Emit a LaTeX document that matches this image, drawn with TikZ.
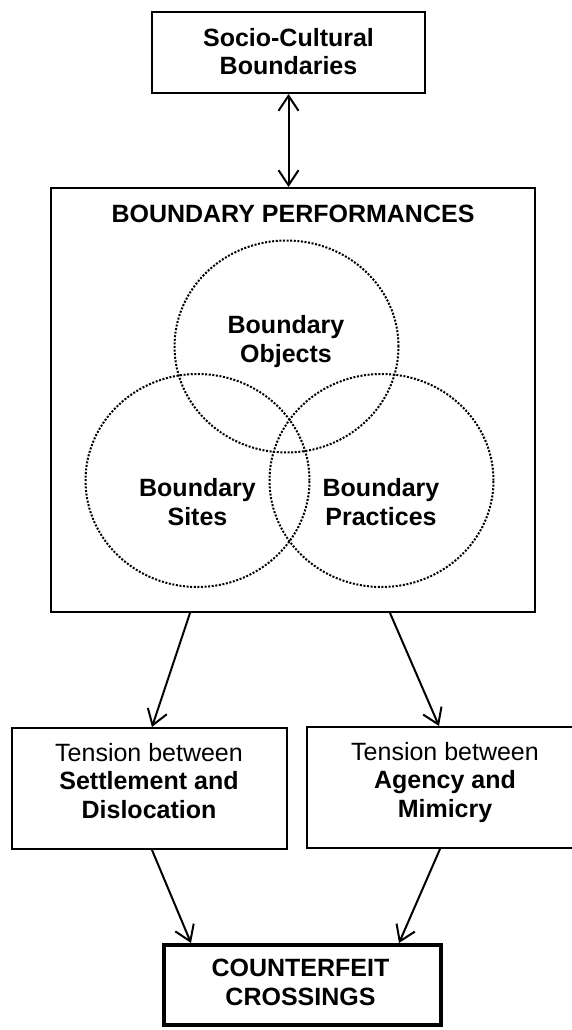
\documentclass[tikz,border=0pt]{standalone}
\usepackage{fontspec}
\setmainfont{Liberation Sans}
\usetikzlibrary{arrows.meta,calc}
\tikzset{
  boxst/.style={draw, line width=2pt, inner sep=0pt},
  heavybox/.style={draw, line width=4pt, inner sep=0pt},
  txt/.style={align=center, inner sep=0pt, font=\fontsize{25}{28.3}\selectfont},
  venn/.style={line width=2pt, dash pattern=on 2pt off 1.6pt},
  arr/.style={line width=2pt, -{Straight Barb[length=15pt, width=20pt, line width=2pt]}},
  darr/.style={line width=2pt, {Straight Barb[length=15pt, width=20pt, line width=2pt]}-{Straight Barb[length=15pt, width=20pt, line width=2pt]}}
}
\begin{document}
\begin{tikzpicture}[x=1pt, y=-1pt]
\useasboundingbox (0,0) rectangle (572,1030);
\clip (0,0) rectangle (572,1030);
% boxes
\node[boxst, minimum width=273pt, minimum height=81pt] (top) at (288.5,52.5) {};
\node[txt, anchor=base] (topt) at (288.5,75) {\bfseries Socio-Cultural\\\bfseries Boundaries};
\node[boxst, minimum width=484pt, minimum height=424pt] (big) at (293,400) {};
\node[txt, anchor=base] (bigt) at (293,222) {\bfseries BOUNDARY PERFORMANCES};
% venn
\draw[venn] (286.5,346.5) ellipse [x radius=112pt, y radius=106pt];
\draw[venn] (197.5,480.5) ellipse [x radius=112pt, y radius=106.5pt];
\draw[venn] (381.5,480.5) ellipse [x radius=112pt, y radius=106.5pt];
\node[txt, anchor=base] (objt) at (286,362) {\bfseries Boundary\\\bfseries Objects};
\node[txt, anchor=base] (sitet) at (197.5,525) {\bfseries Boundary\\\bfseries Sites};
\node[txt, anchor=base] (pract) at (381,525) {\bfseries Boundary\\\bfseries Practices};
% tension boxes
\node[boxst, minimum width=275pt, minimum height=121pt] (lbox) at (149.5,788.5) {};
\node[txt, anchor=base] (lboxt) at (149,818) {Tension between\\\bfseries Settlement and\\\bfseries Dislocation};
\node[boxst, minimum width=276pt, minimum height=121pt] (rbox) at (445,787.5) {};
\node[txt, anchor=base] (rboxt) at (445,817) {Tension between\\\bfseries Agency and\\\bfseries Mimicry};
% final box
\node[heavybox, minimum width=277pt, minimum height=80pt] (cc) at (302.5,985) {};
\node[txt, anchor=base] (cct) at (300.5,1005) {\bfseries COUNTERFEIT\\\bfseries CROSSINGS};
% connectors
\draw[darr] (top.south) -- (top.south |- big.north);
\draw[arr] ($(big.south west)+(140,0)$) -- ($(lbox.north west)+(141,0)$);
\draw[arr] ($(big.south west)+(340,0)$) -- ($(rbox.north west)+(133,0)$);
\draw[arr] ($(lbox.south west)+(141,0)$) -- ($(cc.north west)+(29,0)$);
\draw[arr] ($(rbox.south west)+(134,0)$) -- ($(cc.north west)+(237,0)$);
\end{tikzpicture}
\end{document}
